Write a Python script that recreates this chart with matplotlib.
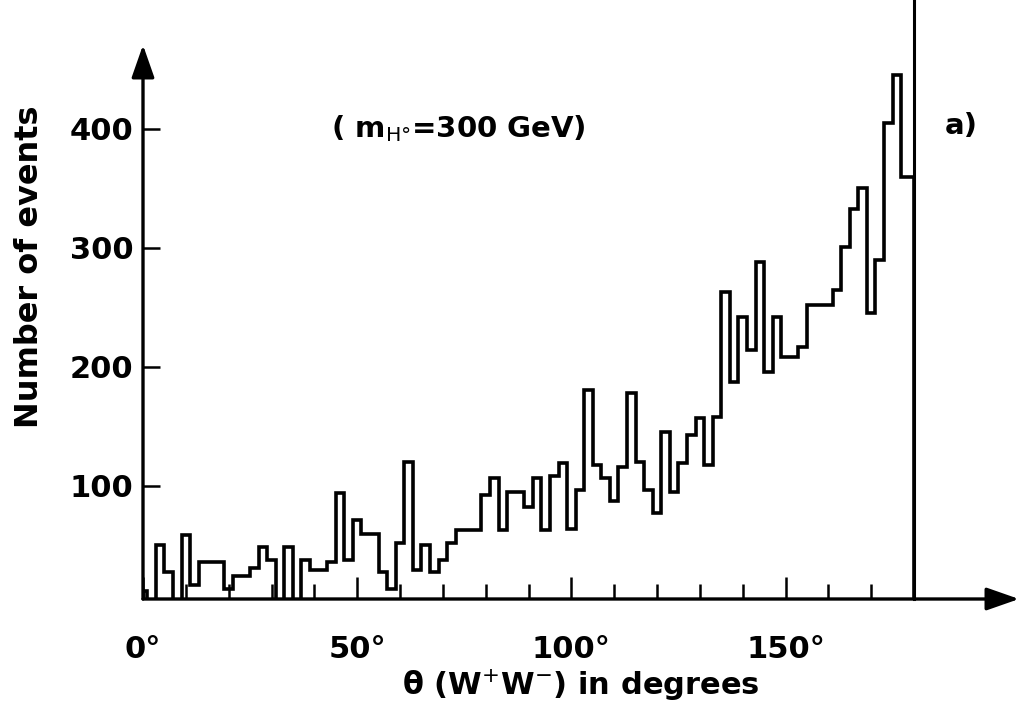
import matplotlib.pyplot as plt
import numpy as np

# bin edges in degrees (2 degree bins centred on even values, clipped to 0..180)
edges = np.concatenate(([0], np.arange(1, 180, 2), [180]))
counts = [12, 0, 50, 28, 0, 59, 17, 36, 36, 36,
          13, 24, 24, 31, 49, 38, 0, 49, 0, 38,
          29, 29, 36, 94, 38, 71, 60, 60, 28, 13,
          52, 120, 29, 50, 28, 38, 52, 63, 63, 63,
          92, 107, 63, 95, 95, 82, 107, 63, 108, 119,
          64, 97, 181, 118, 107, 87, 116, 178, 120, 97,
          77, 145, 95, 119, 143, 157, 118, 158, 263, 187,
          242, 214, 288, 196, 242, 208, 208, 217, 252, 252,
          252, 265, 301, 333, 350, 245, 290, 405, 445, 360,
          360]

x_ticks = [0, 50, 100, 150]
x_labels = ['0°', '50°', '100°', '150°']
x_minor = [10, 20, 30, 40, 60, 70, 80, 90, 110, 120, 130, 140, 160, 170]
y_ticks = [100, 200, 300, 400]
y_labels = ['100', '200', '300', '400']

plt.rcParams['font.family'] = ['DejaVu Sans']

fig = plt.figure(figsize=(10.29, 7.12), dpi=100)
ax = fig.add_axes([143 / 1029, 113 / 712, 876 / 1029, 554 / 712])

ax.stairs(counts, edges, baseline=0, color='black', lw=2.6)
ax.axvline(180, ymin=0, ymax=1.09, color='black', lw=2.2, clip_on=False)

ax.set_xlim(0, 204.5)
ax.set_ylim(5, 470.5)

for s in ax.spines.values():
    s.set_visible(False)

arrow = dict(arrowstyle='-|>,head_length=1.0,head_width=0.35', lw=2.4,
             color='black', shrinkA=0, shrinkB=0, mutation_scale=20)
ax.annotate('', xy=(1, 0), xytext=(0, 0), xycoords='axes fraction', arrowprops=arrow)
ax.annotate('', xy=(0, 1), xytext=(0, 0), xycoords='axes fraction', arrowprops=arrow)

ax.set_yticks(y_ticks)
ax.set_yticklabels(y_labels, fontsize=22, fontweight='bold')
ax.tick_params(axis='y', direction='in', length=12, width=1.8, pad=7)

ax.set_xticks(x_ticks)
ax.set_xticklabels(x_labels, fontsize=22, fontweight='bold')
ax.set_xticks(x_minor, minor=True)
ax.tick_params(axis='x', which='major', direction='in', length=16, width=1.8, pad=26)
ax.tick_params(axis='x', which='minor', direction='in', length=11, width=1.8)

ax.set_ylabel('Number of events', fontsize=23, fontweight='bold')
ax.yaxis.set_label_coords(-0.112, 0.6)
ax.set_xlabel('θ (W$^{+}$W$^{-}$) in degrees', fontsize=22, fontweight='bold')
ax.xaxis.set_label_coords(0.5, -0.125)

ax.text(44, 400, '( m$_{\\mathrm{H}°}$=300 GeV)', fontsize=21, fontweight='bold', va='center')
ax.text(0.915, 0.84, 'a)', transform=ax.transAxes, fontsize=21, fontweight='bold')

fig.savefig('out.png', dpi=100)
